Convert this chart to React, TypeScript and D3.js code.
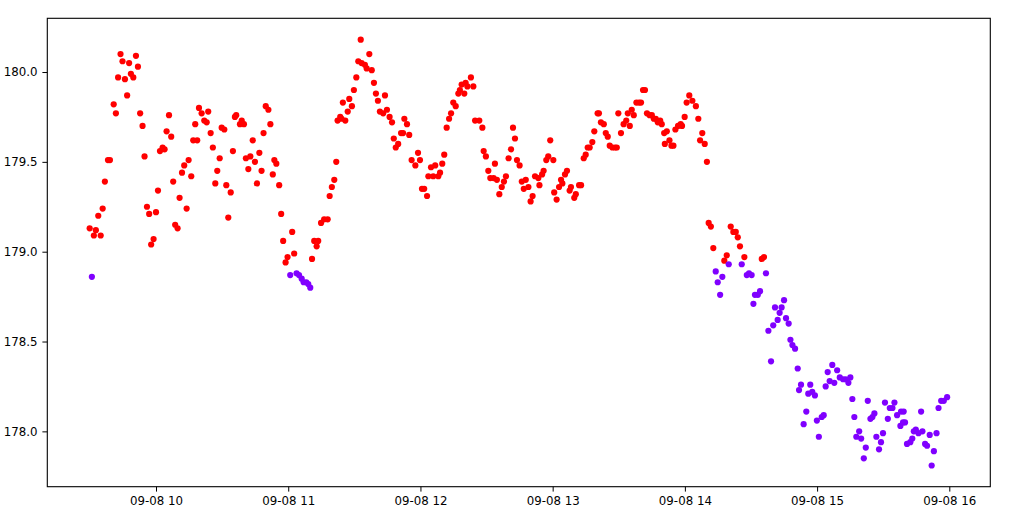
import React, { useEffect, useRef } from 'react';
import * as d3 from 'd3';

// minutes after 09:00 on 09-08, and prices
const redMinutes = [
  29.9, 31.8, 32.7, 33.8, 34.9, 35.8, 36.8, 38.2, 39.1, 40.8, 41.8, 42.8, 43.9, 44.8, 45.9, 46.9, 47.8, 48.6, 49.7, 50.9,
  51.8, 52.8, 53.9, 54.8, 55.9, 56.9, 57.8, 58.9, 60.0, 60.9, 61.8, 63.0, 63.9, 64.8, 65.9, 66.9, 67.8, 68.7, 69.8, 70.7,
  71.8, 72.8, 73.9, 74.8, 76.0, 76.9, 77.8, 78.7, 79.5, 80.7, 81.9, 83.0, 83.7, 84.8, 85.8, 86.9, 87.8, 88.9, 89.8, 91.0,
  91.9, 92.8, 93.9, 94.9, 95.8, 96.4, 98.1, 98.9, 99.9, 100.8, 101.9, 102.8, 103.9, 104.9, 105.8, 106.9, 107.9, 108.8, 109.8, 111.0,
  111.9, 113.0, 113.7, 114.6, 115.9, 116.8, 117.7, 118.8, 119.7, 121.8, 122.7, 130.8, 131.8, 132.9, 133.6, 134.9, 136.3, 137.9, 138.8, 139.8,
  140.9, 141.8, 142.4, 143.6, 144.2, 144.8, 145.9, 147.0, 147.7, 148.9, 149.8, 150.9, 151.8, 152.9, 153.3, 154.8, 155.6, 156.8, 157.9, 158.9,
  159.8, 160.7, 161.6, 163.1, 163.9, 164.8, 166.0, 167.1, 167.9, 168.8, 169.9, 171.2, 172.1, 172.7, 173.9, 174.9, 176.0, 177.7, 178.9, 179.8,
  180.7, 181.7, 183.0, 183.6, 184.8, 185.8, 186.7, 188.1, 188.9, 189.9, 190.8, 191.9, 193.0, 193.9, 194.9, 196.0, 197.2, 197.9, 198.7, 199.9,
  200.5, 201.3, 202.9, 204.0, 204.8, 206.7, 208.1, 208.7, 209.7, 210.8, 211.7, 213.2, 213.8, 214.7, 215.8, 216.9, 217.9, 218.8, 220.0, 221.1,
  222.0, 222.9, 223.8, 225.0, 226.0, 226.9, 227.8, 229.0, 230.0, 230.9, 232.0, 233.5, 234.0, 235.2, 235.9, 237.1, 238.0, 238.9, 240.3, 240.7,
  241.8, 242.9, 243.8, 244.4, 245.6, 246.5, 247.7, 248.3, 249.8, 250.5, 252.0, 252.9, 254.1, 255.0, 255.9, 256.8, 258.0, 258.9, 260.4, 261.0,
  261.9, 263.2, 264.1, 265.0, 265.9, 267.1, 268.3, 269.1, 269.8, 271.0, 272.2, 273.4, 274.1, 275.0, 275.9, 276.8, 278.0, 279.2, 280.1, 281.0,
  281.9, 282.8, 284.0, 285.0, 285.9, 286.8, 287.7, 288.8, 289.5, 290.6, 290.9, 291.8, 293.0, 293.9, 294.8, 295.7, 296.9, 298.1, 298.7, 299.9,
  300.8, 302.0, 303.4, 305.0, 306.1, 306.9, 307.9, 309.0, 310.0, 310.8, 311.8, 312.9, 317.9, 319.0, 320.8, 322.0, 323.1, 324.0, 325.0, 327.0,
  334.9, 335.9,
];
const redValues = [
  179.13, 179.09, 179.12, 179.20, 179.09, 179.24, 179.39, 179.51, 179.51, 179.82, 179.77, 179.97, 180.10, 180.06, 179.96, 179.87, 180.05, 179.99, 179.97, 180.09,
  180.03, 179.77, 179.70, 179.53, 179.25, 179.21, 179.04, 179.07, 179.22, 179.34, 179.56, 179.58, 179.57, 179.67, 179.76, 179.64, 179.39, 179.15, 179.13, 179.30,
  179.44, 179.48, 179.24, 179.51, 179.42, 179.62, 179.71, 179.62, 179.80, 179.77, 179.73, 179.72, 179.78, 179.66, 179.58, 179.38, 179.45, 179.52, 179.69, 179.68,
  179.37, 179.19, 179.33, 179.56, 179.75, 179.76, 179.71, 179.73, 179.71, 179.52, 179.46, 179.53, 179.62, 179.50, 179.38, 179.55, 179.45, 179.66, 179.81, 179.79,
  179.71, 179.43, 179.51, 179.49, 179.37, 179.21, 179.06, 178.94, 178.97, 179.11, 178.99, 178.96, 179.06, 179.03, 179.06, 179.16, 179.18, 179.18, 179.31, 179.36,
  179.40, 179.50, 179.73, 179.75, 179.74, 179.83, 179.73, 179.78, 179.85, 179.81, 179.90, 179.97, 180.06, 180.18, 180.05, 180.04, 180.02, 180.10, 180.01, 179.94,
  179.88, 179.84, 179.78, 179.77, 179.87, 179.79, 179.75, 179.72, 179.63, 179.58, 179.60, 179.66, 179.66, 179.74, 179.71, 179.65, 179.51, 179.48, 179.55, 179.51,
  179.35, 179.35, 179.31, 179.42, 179.47, 179.42, 179.48, 179.42, 179.44, 179.49, 179.54, 179.69, 179.74, 179.77, 179.83, 179.81, 179.88, 179.90, 179.93, 179.88,
  179.94, 179.92, 179.97, 179.92, 179.73, 179.73, 179.69, 179.56, 179.53, 179.45, 179.41, 179.41, 179.49, 179.40, 179.32, 179.36, 179.39, 179.42, 179.52, 179.57,
  179.69, 179.63, 179.51, 179.48, 179.39, 179.35, 179.40, 179.36, 179.28, 179.31, 179.42, 179.41, 179.37, 179.43, 179.45, 179.51, 179.53, 179.62, 179.51, 179.33,
  179.29, 179.36, 179.40, 179.38, 179.43, 179.45, 179.34, 179.36, 179.30, 179.32, 179.37, 179.37, 179.52, 179.54, 179.58, 179.58, 179.61, 179.67, 179.77, 179.77,
  179.72, 179.71, 179.66, 179.64, 179.59, 179.58, 179.58, 179.58, 179.77, 179.66, 179.71, 179.73, 179.77, 179.70, 179.79, 179.76, 179.83, 179.83, 179.83, 179.90,
  179.90, 179.77, 179.76, 179.76, 179.74, 179.74, 179.72, 179.73, 179.71, 179.66, 179.60, 179.67, 179.62, 179.59, 179.59, 179.68, 179.70, 179.71, 179.70, 179.75,
  179.83, 179.87, 179.84, 179.81, 179.74, 179.62, 179.66, 179.60, 179.50, 179.16, 179.14, 179.02, 178.95, 178.98, 179.14, 179.11, 179.11, 179.08, 179.03, 178.97,
  178.96, 178.97,
];

const purpleMinutes = [
  30.9, 120.9, 123.8, 124.9, 126.1, 127.0, 128.2, 129.1, 130.0,
  314.0, 314.9, 316.0, 317.0, 319.9, 325.8, 328.1, 329.1, 330.3, 331.1, 331.8, 333.1, 334.1, 336.8, 337.9, 339.1, 340.1, 340.9, 342.1, 343.0,
  343.9, 345.0, 345.9, 347.1, 347.9, 348.8, 350.0, 351.2, 351.8, 352.7, 353.9, 355.1, 356.0, 356.9, 357.8, 359.0, 359.9, 360.8, 362.1, 363.0,
  363.9, 364.8, 365.7, 366.9, 367.8, 369.1, 370.3, 371.8, 373.0, 374.2, 375.1, 376.0, 376.9, 377.8, 379.1, 380.0, 381.2, 382.1, 383.0, 384.2,
  385.1, 386.0, 386.9, 388.1, 389.0, 389.9, 390.8, 392.1, 393.0, 394.2, 395.1, 396.3, 397.8, 398.1, 399.0, 399.3, 399.9, 400.8, 402.3, 403.2,
  403.9, 404.8, 406.0, 407.2, 407.8, 409.0, 409.9, 411.1, 412.0, 413.0, 414.2, 415.1, 416.3, 417.5, 419.0,
];
const purpleValues = [
  178.86, 178.87, 178.88, 178.87, 178.85, 178.83, 178.83, 178.82, 178.80,
  178.89, 178.83, 178.76, 178.86, 178.93, 178.93, 178.87, 178.88, 178.87, 178.71, 178.76, 178.76, 178.78, 178.88, 178.56, 178.39, 178.59, 178.69, 178.62, 178.66,
  178.69, 178.73, 178.63, 178.60, 178.51, 178.48, 178.46, 178.35, 178.23, 178.26, 178.04, 178.11, 178.21, 178.26, 178.22, 178.20, 178.06, 177.97, 178.08, 178.09,
  178.25, 178.33, 178.28, 178.37, 178.27, 178.34, 178.30, 178.29, 178.29, 178.27, 178.30, 178.18, 178.08, 177.97, 178.00, 177.96, 177.85, 177.91, 178.17, 178.07,
  178.08, 178.10, 177.97, 177.90, 177.94, 177.99, 178.16, 178.07, 178.13, 178.13, 178.16, 178.09, 178.03, 178.11, 178.05, 178.11, 178.05, 177.93, 177.94, 177.96,
  178.00, 178.01, 177.99, 178.11, 178.00, 177.93, 177.92, 177.98, 177.81, 177.89, 177.99, 178.13, 178.17, 178.17, 178.19,
];

const xTickHours = [10, 11, 12, 13, 14, 15, 16];
const yTickValues = [178.0, 178.5, 179.0, 179.5, 180.0];

export default function App() {
  const ref = useRef<SVGSVGElement>(null);

  useEffect(() => {
    document.body.style.margin = '0';
    const svg = d3.select(ref.current);
    svg.selectAll('*').remove();

    const base = new Date(2023, 8, 8, 9, 0, 0).getTime();
    const t = (m: number) => new Date(base + m * 60000);

    const left = 47.3, right = 990.3, top = 18.3, bottom = 486.7;
    const x = d3.scaleTime().domain([t(10.67), t(438.6)]).range([left, right]);
    const y = d3.scaleLinear().domain([177.692, 180.299]).range([bottom, top]);

    const font = "'DejaVu Sans', sans-serif";
    const fs = 11.8;

    const plot = svg.append('g');
    const red = redMinutes.map((m, i) => ({ m, v: redValues[i] }));
    const purple = purpleMinutes.map((m, i) => ({ m, v: purpleValues[i] }));

    plot.selectAll('circle.red').data(red).enter().append('circle')
      .attr('class', 'red')
      .attr('cx', d => x(t(d.m)))
      .attr('cy', d => y(d.v))
      .attr('r', 3.1)
      .attr('fill', '#ff0000');

    plot.selectAll('circle.purple').data(purple).enter().append('circle')
      .attr('class', 'purple')
      .attr('cx', d => x(t(d.m)))
      .attr('cy', d => y(d.v))
      .attr('r', 3.1)
      .attr('fill', '#8000ff');

    const xAxis = d3.axisBottom(x)
      .tickValues(xTickHours.map(h => t((h - 9) * 60)))
      .tickSize(4.9)
      .tickPadding(4.9)
      .tickFormat(d => d3.timeFormat('%m-%d %H')(d as Date));
    const gx = svg.append('g').attr('transform', `translate(0,${bottom})`).call(xAxis);
    gx.select('.domain').remove();
    gx.selectAll('text').attr('font-family', font).attr('font-size', fs).attr('fill', '#000');
    gx.selectAll('line').attr('stroke', '#000').attr('stroke-width', 1);

    const yAxis = d3.axisLeft(y)
      .tickValues(yTickValues)
      .tickSize(4.9)
      .tickPadding(4.9)
      .tickFormat(d => d3.format('.1f')(d as number));
    const gy = svg.append('g').attr('transform', `translate(${left},0)`).call(yAxis);
    gy.select('.domain').remove();
    gy.selectAll('text').attr('font-family', font).attr('font-size', fs).attr('fill', '#000');
    gy.selectAll('line').attr('stroke', '#000').attr('stroke-width', 1);

    svg.append('rect')
      .attr('x', left).attr('y', top)
      .attr('width', right - left).attr('height', bottom - top)
      .attr('fill', 'none').attr('stroke', '#000').attr('stroke-width', 1.1);
  }, []);

  return <svg ref={ref} width={1024} height={517} style={{ display: 'block', background: '#fff' }} />;
}
